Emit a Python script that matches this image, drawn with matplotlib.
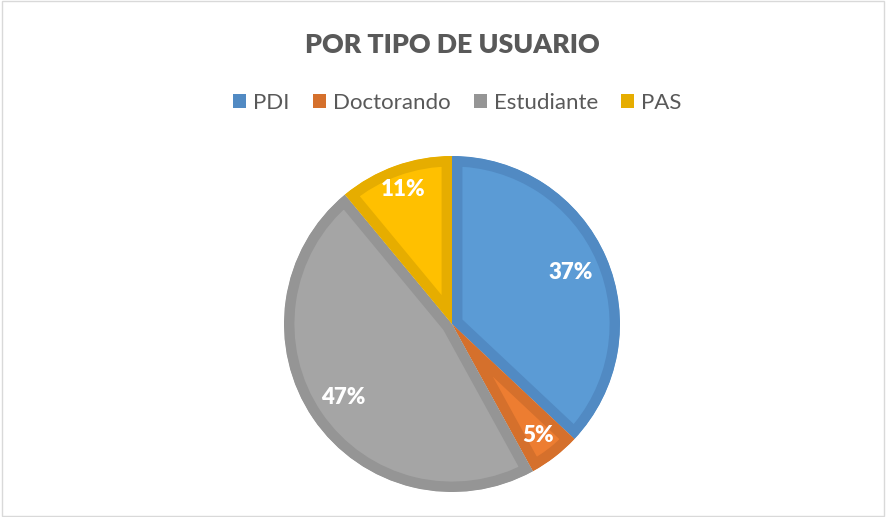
import numpy as np
import matplotlib.pyplot as plt
from matplotlib.patches import Patch, Rectangle

# data
categories = ['PDI', 'Doctorando', 'Estudiante', 'PAS']
shares = [37, 5, 47, 11]
fill_colors = ['#5B9BD5', '#ED7D31', '#A5A5A5', '#FFC000']
edge_colors = ['#518AC3', '#D5702C', '#959595', '#E6AD00']
label_dist = [0.77, 0.84, 0.78, 0.85]

plt.rcParams['font.family'] = ['Lato', 'DejaVu Sans']
text_gray = '#595959'

fig = plt.figure(figsize=(8.86, 5.17), dpi=100)
fig.patches.append(Rectangle((0.002, 0.002), 0.996, 0.996, transform=fig.transFigure,
                             fill=False, edgecolor='#D9D9D9', linewidth=1))

W, H = 886, 517
cx, cy, r = 452, 324, 168
ax = fig.add_axes([(cx - r) / W, (H - cy - r) / H, 2 * r / W, 2 * r / H])

wedges, texts = ax.pie(shares, colors=fill_colors, startangle=90, counterclock=False,
                       radius=1)
for w, ec in zip(wedges, edge_colors):
    w.set_edgecolor(ec)
    w.set_linewidth(15)
    w.set_clip_path(w)
    w.set_clip_on(True)

ang = 90.0
for v, d in zip(shares, label_dist):
    mid = np.deg2rad(ang - v * 3.6 / 2)
    ang -= v * 3.6
    ax.text(d * np.cos(mid), d * np.sin(mid), f'{v}%', ha='center', va='center',
            color='white', fontsize=16, fontweight='heavy')

ax.set_xlim(-1, 1)
ax.set_ylim(-1, 1)
ax.set_aspect('equal')
ax.axis('off')

fig.text(0.511, 1 - 45 / H, 'POR TIPO DE USUARIO', ha='center', va='center',
         fontsize=19.3, fontweight='heavy', color=text_gray)

handles = [Patch(facecolor=c, edgecolor='none') for c in edge_colors]
fig.legend(handles, categories, loc='center', bbox_to_anchor=(0.516, 1 - 103 / H),
           ncol=4, frameon=False, fontsize=16, labelcolor=text_gray,
           handlelength=0.6, handleheight=0.6, handletextpad=0.3, columnspacing=1.05)

fig.savefig('out.png', dpi=100)
